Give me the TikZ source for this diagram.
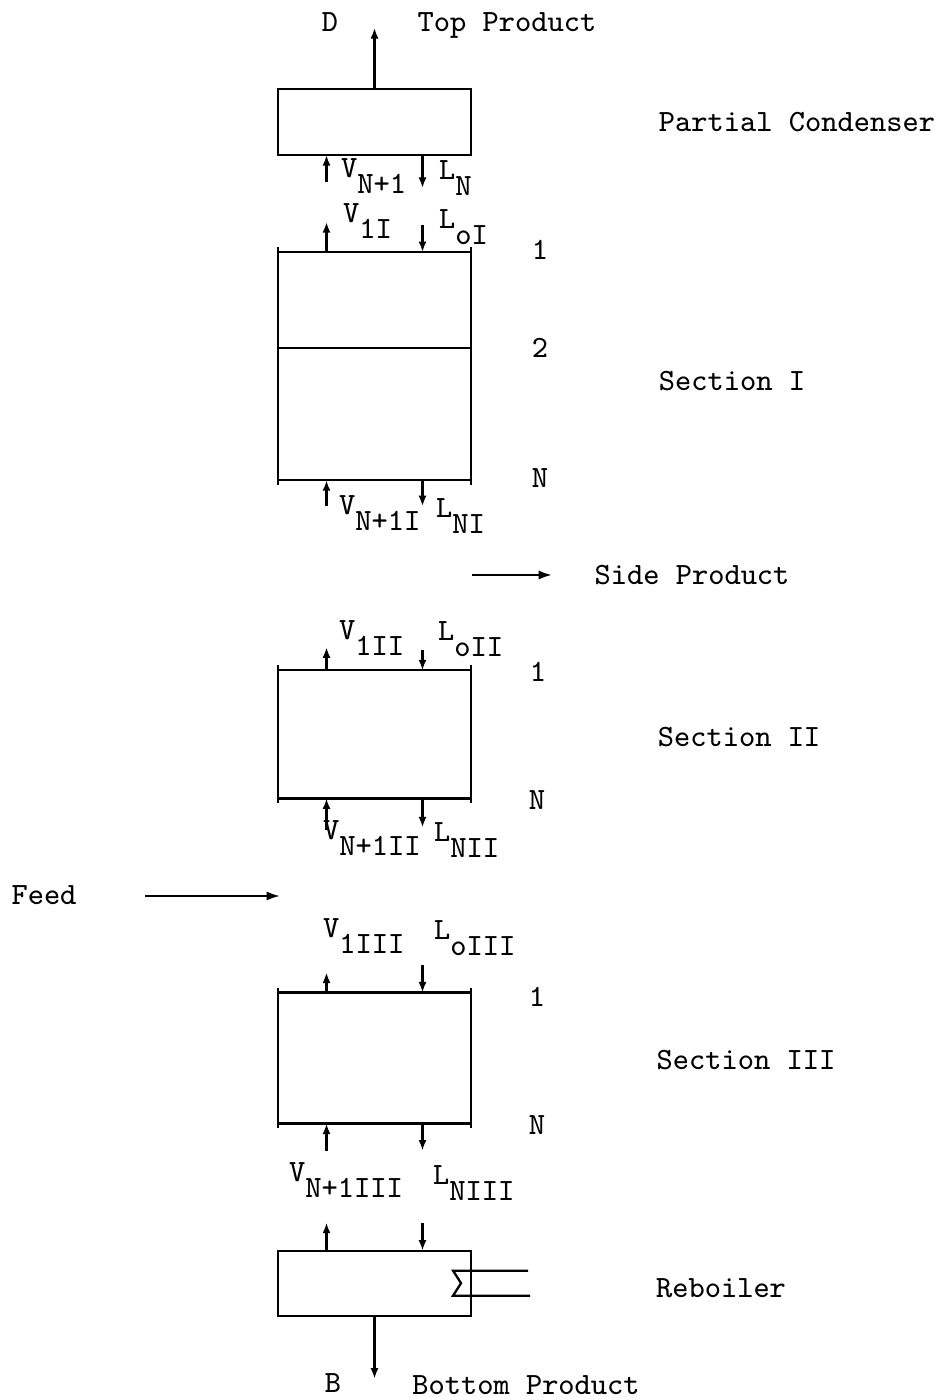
\documentclass[tikz,border=0pt]{standalone}
\usetikzlibrary{arrows.meta,positioning,calc}

\newcommand{\lowsub}[1]{\raisebox{-4.5pt}{#1}}

\begin{document}
\begin{tikzpicture}[
  x=0.01cm, y=0.01cm,
  font=\ttfamily\fontsize{8.8}{10.5}\selectfont,
  line width=0.65pt,
  flow/.style={-{Latex[length=3pt,width=2.3pt]}, line width=0.65pt},
  longflow/.style={-{Latex[length=3.8pt,width=2.6pt]}, line width=0.65pt},
  unit/.style={draw, line width=0.65pt, minimum width=1.93cm, inner sep=0pt, outer sep=0pt},
  sect/.style={minimum width=1.93cm, inner sep=0pt, outer sep=0pt},
  lbl/.style={inner sep=0pt, text height=5.4pt, text depth=0pt},
  strm/.style={inner sep=0pt, anchor=base west}
]
\useasboundingbox (0,0) rectangle (941,1400);

% Column: condenser, three sections, reboiler
\node[unit, minimum height=0.66cm] (cond) at (374.5,1278) {};
\node[sect, minimum height=2.28cm, below=0.97cm of cond] (s1) {};
\node[sect, minimum height=1.28cm, below=1.90cm of s1] (s2) {};
\node[sect, minimum height=1.31cm, below=1.94cm of s2] (s3) {};
\node[unit, minimum height=0.65cm, below=1.27cm of s3] (reb) {};

\foreach \s in {s1,s2,s3} {
  \draw (\s.north west) -- (\s.north east);
  \draw (\s.south west) -- (\s.south east);
  \draw ([yshift=1.4pt]\s.north west) -- ([yshift=-1.4pt]\s.south west);
  \draw ([yshift=1.4pt]\s.north east) -- ([yshift=-1.4pt]\s.south east);
}
\draw ($(s1.west)+(0,18)$) -- ($(s1.east)+(0,18)$);

% Heating coil in reboiler
\draw ($(reb.east)+(57,12.5)$) -- ($(reb.east)+(-18,12.5)$)
  -- ($(reb.east)+(-10,0)$) -- ($(reb.east)+(-18,-12.5)$)
  -- ($(reb.east)+(59,-12.5)$);

% Products
\draw[flow] (cond.north) -- ($(cond.north)+(0,61)$);
\draw[flow] (reb.south) -- ($(reb.south)+(0,-63)$);

% Vapour and liquid streams
\draw[flow] ($(cond.south)+(-48,-27)$) -- ($(cond.south)+(-48,0)$);
\draw[flow] ($(cond.south)+(48,0)$) -- ($(cond.south)+(48,-33)$);
\draw[flow] ($(s1.north)+(-48,0)$) -- ($(s1.north)+(-48,30)$);
\draw[flow] ($(s1.north)+(48,27)$) -- ($(s1.north)+(48,0)$);
\draw[flow] ($(s1.south)+(-48,-26)$) -- ($(s1.south)+(-48,0)$);
\draw[flow] ($(s1.south)+(48,0)$) -- ($(s1.south)+(48,-26)$);
\draw[flow] ($(s2.north)+(-48,0)$) -- ($(s2.north)+(-48,23)$);
\draw[flow] ($(s2.north)+(48,20)$) -- ($(s2.north)+(48,0)$);
\draw[flow] ($(s2.south)+(-48,-32)$) -- ($(s2.south)+(-48,0)$);
\draw[flow] ($(s2.south)+(48,0)$) -- ($(s2.south)+(48,-29)$);
\draw[flow] ($(s3.north)+(-48,0)$) -- ($(s3.north)+(-48,20)$);
\draw[flow] ($(s3.north)+(48,27)$) -- ($(s3.north)+(48,0)$);
\draw[flow] ($(s3.south)+(-48,-27)$) -- ($(s3.south)+(-48,0)$);
\draw[flow] ($(s3.south)+(48,0)$) -- ($(s3.south)+(48,-27)$);
\draw[flow] ($(reb.north)+(-48,0)$) -- ($(reb.north)+(-48,28)$);
\draw[flow] ($(reb.north)+(48,28)$) -- ($(reb.north)+(48,0)$);

\node[strm] (v0) at (340,1222) {V\lowsub{N+1}};
\node[strm] (l0) at (438,1220) {L\lowsub{N}};
\node[strm] (v1) at (342,1177) {V\lowsub{1I}};
\node[strm] (l1) at (438,1171) {L\lowsub{oI}};
\node[strm] (v2) at (338,885) {V\lowsub{N+1I}};
\node[strm] (l2) at (435,882) {L\lowsub{NI}};
\node[strm] (v3) at (338,760) {V\lowsub{1II}};
\node[strm] (l3) at (437,759) {L\lowsub{oII}};
\node[strm] (v4) at (322,560) {V\lowsub{N+1II}};
\node[strm] (l4) at (433,558) {L\lowsub{NII}};
\node[strm] (v5) at (322,462) {V\lowsub{1III}};
\node[strm] (l5) at (433,460) {L\lowsub{oIII}};
\node[strm] (v6) at (288,218) {V\lowsub{N+1III}};
\node[strm] (l6) at (432,215) {L\lowsub{NIII}};

% Side product and feed
\coordinate (sideA) at (472,825);
\coordinate (sideB) at (552,825);
\draw[longflow] (sideA) -- (sideB);
\coordinate (feedA) at (145,504);
\coordinate (feedB) at (280,504);
\draw[longflow] (feedA) -- (feedB);

% Labels
\node[lbl] (dlbl) at (330,1378) {D};
\node[lbl] (toplbl) at (507,1378) {Top Product};
\node[lbl] (condlbl) at (797,1278) {Partial Condenser};
\node[lbl] (t11) at (540,1150) {1};
\node[lbl] (t12) at (540,1052) {2};
\node[lbl] (t1n) at (540,922) {N};
\node[lbl] (sec1lbl) at (732,1019) {Section I};
\node[lbl] (sidelbl) at (692,825) {Side Product};
\node[lbl] (t21) at (538,728) {1};
\node[lbl] (t2n) at (537,600) {N};
\node[lbl] (sec2lbl) at (739,663) {Section II};
\node[lbl] (feedlbl) at (44,505) {Feed};
\node[lbl] (t31) at (537,403) {1};
\node[lbl] (t3n) at (537,275) {N};
\node[lbl] (sec3lbl) at (746,340) {Section III};
\node[lbl] (reblbl) at (721,112) {Reboiler};
\node[lbl] (blbl) at (333,17) {B};
\node[lbl] (botlbl) at (526,15) {Bottom Product};

\end{tikzpicture}
\end{document}
